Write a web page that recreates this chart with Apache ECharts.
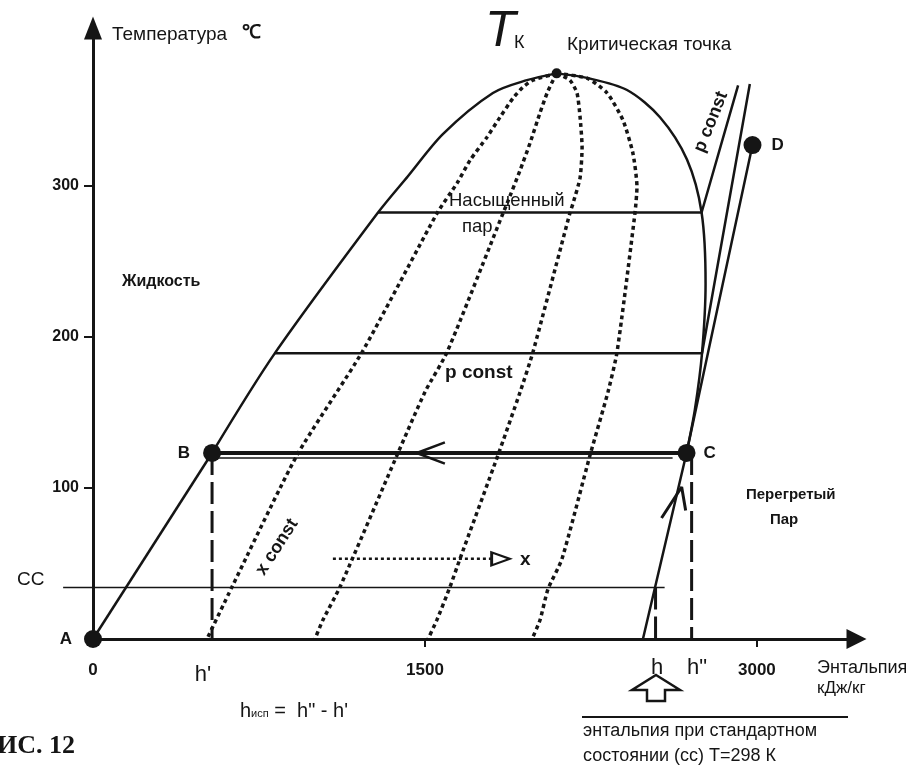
<!DOCTYPE html>
<html><head><meta charset="utf-8">
<script src="https://cdn.jsdelivr.net/npm/echarts@6/dist/echarts.min.js"></script>
<style>html,body{margin:0;padding:0;background:#fff}#c{width:913px;height:765px}</style>
</head><body><div id="c"></div>
<script>
// ---- data (enthalpy kJ/kg, temperature °C) ----
const xTickValues = [0, 1500, 3000];
const yTickValues = [100, 200, 300];
const liquidLine = [[0, 0], [538, 123]];
const domeLeft = [[538, 123], [822, 189], [1288, 282], [1423, 306], [1582, 334], [1807, 361], [1961, 369.5], [2095, 374]];
const domeRight = [[2095, 374], [2232, 371], [2413, 363], [2562, 345], [2684, 317], [2750, 282], [2768, 235], [2752, 189], [2720, 152], [2682, 123]];
const isobarHigh = [[1288, 282], [2750, 282], [2915, 366]];
const isobarMid = [[822, 189], [2752, 189], [2968, 367]];
const isobarLow = [[538, 123], [2682, 123]];
const isobarLowThin = [[551, 119.6], [2619, 119.6]];
const isobarLowSuper = [[2485, 0], [2682, 123], [2980, 326.6]];
const xConst1 = [[2095, 374], [1988, 369.5], [1943, 365], [1898, 357.6], [1839, 345], [1781, 332], [1704, 316.6], [1645, 301.4], [1555, 281.6], [1216, 189.7], [922, 121.6], [628, 34.4], [515, 0]];
const xConst2 = [[2095, 374], [2079, 369.5], [2052, 361], [2020, 348], [1975, 328], [1930, 310], [1871, 288], [1853, 281.6], [1600, 189.7], [1500, 163.3], [1374, 121.6], [1116, 34.4], [1039, 12.6], [1003, 0]];
const xConst3 = [[2095, 374], [2155, 369.5], [2187, 361], [2201, 345], [2210, 325], [2201, 305], [2169, 288], [2155, 281.6], [1988, 189.7], [1930, 163.3], [1830, 121.6], [1658, 52.9], [1613, 34.4], [1554, 12.6], [1514, 0]];
const xConst4 = [[2095, 374], [2232, 370.8], [2323, 361], [2395, 343], [2440, 321], [2458, 299], [2449, 281.6], [2368, 189.7], [2327, 163.3], [2246, 121.6], [2119, 52.9], [2056, 33], [2020, 12.6], [1984, 0]];
const ccLine = [[-135, 34], [2583, 34]];
const dashB = [[538, 123], [538, 0]];
const dashC = [[2705, 123], [2705, 0]];
const dashH = [[2542, 34], [2542, 0]];
const xArrowLine = [[1084, 53], [1802, 53]];
const xArrowHead = [[1842, 53]];
const arrowBC = [[1590, 130], [1463, 123], [1590, 116]];
const arrowUp = [[2569, 80], [2660, 100.5], [2678, 85]];
const pointNames = ['A', 'B', 'C', 'D'];
const pointValues = [[0, 0], [538, 123], [2682, 123], [2980, 326.6]];
const criticalPoint = [[2095, 374]];

const INK = '#151515';
const FONT = '"Liberation Sans", Arial, sans-serif';

function line(data, width, type, extra) {
  return Object.assign({
    type: 'line', data: data, symbol: 'none', clip: false, silent: true,
    lineStyle: { color: INK, width: width, type: type || 'solid', opacity: 1 }, animation: false
  }, extra || {});
}
const dotted = [4, 3.5];
const dashed = [22, 7];

const pointLabelPos = [
  { position: 'left', distance: 12 },
  { position: 'left', distance: 13 },
  { position: 'right', distance: 8 },
  { position: 'right', distance: 10 }
];

function txt(x, y, text, size, opts) {
  opts = opts || {};
  return {
    type: 'text', x: x, y: y, rotation: opts.rotation || 0, silent: true,
    style: {
      text: text, fill: INK, fontSize: size, fontFamily: opts.family || FONT,
      fontWeight: opts.weight || 'normal', fontStyle: opts.style || 'normal',
      align: opts.align || 'left', verticalAlign: 'middle', rich: opts.rich
    }
  };
}

const chart = echarts.init(document.getElementById('c'), null, { renderer: 'canvas' });
chart.setOption({
  backgroundColor: '#ffffff',
  animation: false,
  grid: { left: 93, right: 56.5, top: 28, bottom: 126, containLabel: false, outerBoundsMode: 'none' },
  xAxis: {
    type: 'value', min: 0, max: 3450,
    axisLine: { show: true, onZero: false, symbol: ['none', 'triangle'], symbolSize: [20, 20], lineStyle: { color: INK, width: 3 } },
    axisTick: { show: true, length: 8, lineStyle: { color: INK, width: 2 }, customValues: [1500, 3000] },
    axisLabel: { customValues: xTickValues, formatter: v => String(v), margin: 23, color: INK, fontSize: 17, fontWeight: 'bold', fontFamily: FONT },
    splitLine: { show: false }
  },
  yAxis: {
    type: 'value', min: 0, max: 404,
    axisLine: { show: true, onZero: false, symbol: ['none', 'triangle'], symbolSize: [18, 23], lineStyle: { color: INK, width: 3 } },
    axisTick: { show: true, length: 9, lineStyle: { color: INK, width: 2 }, customValues: yTickValues },
    axisLabel: { customValues: yTickValues, formatter: v => String(v), margin: 14, color: INK, fontSize: 16, fontWeight: 'bold', fontFamily: FONT },
    splitLine: { show: false }
  },
  series: [
    {
      type: 'custom', silent: true, animation: false, clip: false, data: [0],
      renderItem: function (params, api) {
        const p1 = api.coord(ccLine[0]);
        const p2 = api.coord(ccLine[1]);
        return { type: 'line', shape: { x1: p1[0], y1: p1[1], x2: p2[0], y2: p2[1] }, style: { stroke: INK, lineWidth: 1.5 } };
      }
    },
    line(xConst1, 3.5, dotted, { smooth: 0.2 }),
    line(xConst2, 3.5, dotted, { smooth: 0.2 }),
    line(xConst3, 3.5, dotted, { smooth: 0.2 }),
    line(xConst4, 3.5, dotted, { smooth: 0.2 }),
    line(liquidLine, 2.5),
    line(domeLeft, 2.5, 'solid', { smooth: 0.3 }),
    line(domeRight, 2.5, 'solid', { smooth: 0.3 }),
    line(isobarHigh, 2.5),
    line(isobarMid, 2.5),
    line(isobarLow, 4),
    line(isobarLowThin, 1.5),
    line(isobarLowSuper, 2.5),
    line(dashB, 3, dashed),
    line(dashC, 3, dashed),
    line(dashH, 3, dashed),
    line(xArrowLine, 2.5, [3, 3]),
    line(arrowBC, 2.5),
    line(arrowUp, 3),
    {
      type: 'scatter', data: xArrowHead, symbol: 'triangle', symbolSize: [13, 18], symbolRotate: -90,
      itemStyle: { color: '#fff', borderColor: INK, borderWidth: 2.5, opacity: 1 }, silent: true, animation: false, z: 5
    },
    {
      type: 'scatter', data: criticalPoint, symbolSize: 10, itemStyle: { color: INK, opacity: 1 }, silent: true, animation: false, z: 5
    },
    {
      type: 'scatter', symbolSize: 18, itemStyle: { color: INK, opacity: 1 }, silent: true, animation: false, z: 6,
      data: pointValues.map((v, i) => ({
        value: v, name: pointNames[i],
        label: Object.assign({ show: true, formatter: '{b}', color: INK, opacity: 1, fontSize: 17, fontWeight: 'bold', fontFamily: FONT }, pointLabelPos[i])
      }))
    }
  ],
  graphic: [
    txt(112, 35, 'Температура', 19),
    txt(242, 33, '℃', 19, { weight: 'bold', family: '"Liberation Serif", serif' }),
    txt(485, 32, 'T', 50, { style: 'italic' }),
    txt(514, 43, 'К', 18),
    txt(567, 45, 'Критическая точка', 19),
    txt(122, 282, 'Жидкость', 16, { weight: 'bold' }),
    txt(449, 201, 'Насыщенный', 18.5),
    txt(462, 227, 'пар', 18.5),
    txt(445, 373, 'p const', 19, { weight: 'bold' }),
    txt(711, 122, 'p const', 18, { weight: 'bold', align: 'center', rotation: 68 * Math.PI / 180 }),
    txt(277, 547, 'x const', 18, { weight: 'bold', align: 'center', rotation: 57 * Math.PI / 180 }),
    txt(520, 560, 'x', 19, { weight: 'bold' }),
    txt(746, 495, 'Перегретый', 15, { weight: 'bold' }),
    txt(770, 520, 'Пар', 15, { weight: 'bold' }),
    txt(17, 580, 'CC', 19),
    txt(203, 675, "h'", 22, { align: 'center' }),
    txt(657, 668, 'h', 22, { align: 'center' }),
    txt(697, 668, 'h"', 22, { align: 'center' }),
    txt(817, 668, 'Энтальпия', 18),
    txt(817, 688, 'кДж/кг', 17),
    {
      type: 'polygon', silent: true,
      shape: { points: [[656, 675], [680, 690], [665, 690], [665, 701], [647, 701], [647, 690], [632, 690]] },
      style: { fill: '#fff', stroke: INK, lineWidth: 2.5 }
    },
    { type: 'line', silent: true, shape: { x1: 582, y1: 717, x2: 848, y2: 717 }, style: { stroke: INK, lineWidth: 2 } },
    txt(583, 731, 'энтальпия при стандартном', 18),
    txt(583, 756, 'состоянии (сс) Т=298 К', 18),
    txt(240, 711, '{a|h}{b|исп}{a| =  h" - h\'}', 20, {
      rich: { a: { fontSize: 20, fontFamily: FONT, fill: INK }, b: { fontSize: 11, fontFamily: FONT, fill: INK, padding: [6, 0, 0, 0] } }
    }),
    txt(-3, 746, 'ИС. 12', 26, { weight: 'bold', family: '"Liberation Serif", serif' })
  ]
});
</script>
</body></html>
